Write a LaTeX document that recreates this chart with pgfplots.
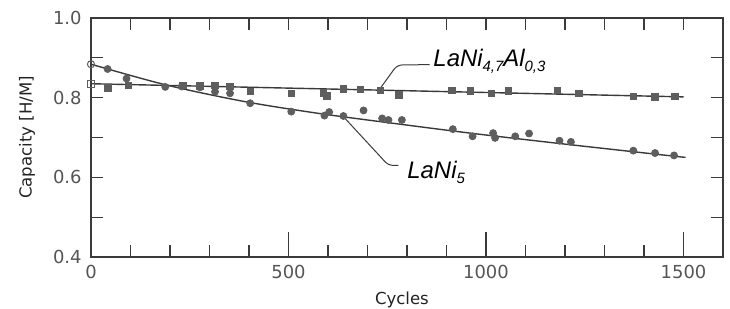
\documentclass[border=0pt]{standalone}
\usepackage{fontspec}
\setmainfont{DejaVu Sans}
\newfontfamily\annfont{Liberation Sans}
\usepackage{pgfplots}
\pgfplotsset{compat=1.18}
\definecolor{axgray}{HTML}{3A3A3A}
\definecolor{mkgray}{HTML}{5E5E5E}
\definecolor{tickgray}{HTML}{555555}
\definecolor{labgray}{HTML}{222222}
\newcommand{\sub}[1]{\raisebox{-2.5bp}{\fontsize{7.5}{7.5}\selectfont #1}}

\pgfplotstableread{
c v
42 0.872
90 0.848
188 0.827
230 0.828
276 0.826
314 0.815
352 0.811
403 0.786
507 0.765
591 0.755
603 0.764
639 0.754
690 0.768
737 0.748
753 0.744
787 0.744
916 0.721
966 0.703
1018 0.711
1023 0.699
1074 0.703
1109 0.710
1186 0.692
1215 0.689
1373 0.667
1428 0.661
1476 0.655
}\lanifive

\pgfplotstableread{
c v
43 0.825
94 0.831
233 0.831
276 0.830
314 0.831
352 0.829
403 0.815
508 0.810
589 0.812
597 0.804
639 0.822
682 0.821
732 0.818
779 0.807
914 0.819
960 0.817
1014 0.810
1056 0.817
1180 0.819
1235 0.810
1373 0.803
1428 0.802
1478 0.803
}\lanial

\begin{document}
\begin{tikzpicture}
\path (0,0) rectangle (365bp,154.5bp);
\begin{axis}[at={(45.5bp,26bp)}, anchor=south west,
  scale only axis, width=316bp, height=119.5bp,
  xmin=0, xmax=1600, ymin=0.4, ymax=1.0, clip=false,
  axis line style={line width=0.9bp, color=axgray},
  xtick={0,100,...,1500}, xticklabels={0,,,,,500,,,,,1000,,,,,1500},
  ytick={0.4,0.5,0.6,0.7,0.8,0.9,1.0}, yticklabels={0.4,,0.6,,0.8,,1.0},
  tick pos=both, xticklabel pos=left, yticklabel pos=left,
  tick align=inside, major tick length=6bp,
  extra x ticks={500,1000,1500}, extra x tick labels={},
  extra x tick style={tick pos=left, major tick length=12.5bp},
  every tick/.style={line width=0.65bp, color=axgray},
  tick label style={font=\fontsize{9}{9}\selectfont, text=tickgray},
  xticklabel style={anchor=north, inner sep=0pt, yshift=-4bp},
  yticklabel style={anchor=east, inner sep=0pt, xshift=-4.5bp},
  xlabel={Cycles}, ylabel={Capacity [H/M]},
  label style={font=\fontsize{8.3}{8.5}\selectfont, text=labgray},
  xlabel style={at={(axis description cs:0.492,-0.2)}, anchor=base, inner sep=0pt},
  ylabel style={at={(axis description cs:-0.101,0.5)}, anchor=center, inner sep=0pt}]
% fitted lines
\addplot[axgray, line width=0.7bp] coordinates {(0,0.835) (1500,0.802)};
\addplot[axgray, line width=0.7bp, smooth] coordinates {
  (0,0.884) (190,0.832) (390,0.790) (580,0.760) (770,0.735) (960,0.711) (1150,0.689) (1330,0.669) (1505,0.650)};
% data points
\addplot[only marks, mark=*, mark size=1.75bp, mkgray, mark options={fill=mkgray}] table[x=c,y=v] {\lanifive};
\addplot[only marks, mark=square*, mark size=1.6bp, mkgray, mark options={fill=mkgray}] table[x=c,y=v] {\lanial};
\addplot[only marks, mark=o, mark size=1.8bp, mkgray, mark options={fill=white, line width=0.5bp}] coordinates {(0,0.884)};
\addplot[only marks, mark=square, mark size=1.65bp, mkgray, mark options={fill=white, line width=0.5bp}] coordinates {(0,0.835)};
% leader lines
\addplot[axgray, line width=0.5bp, rounded corners=2.5bp] coordinates {(732,0.823) (775,0.882) (857,0.883)};
\addplot[axgray, line width=0.5bp, rounded corners=2bp] coordinates {(643,0.748) (753,0.630) (778,0.630)};
% labels
\node[anchor=base west, inner sep=0pt, font=\annfont\itshape\fontsize{12}{13}\selectfont, text=black]
  at (axis cs:866,0.877) {LaNi\sub{4,7}Al\sub{0,3}};
\node[anchor=base west, inner sep=0pt, font=\annfont\itshape\fontsize{12}{13}\selectfont, text=black]
  at (axis cs:800,0.598) {LaNi\sub{5}};
\end{axis}
\end{tikzpicture}
\end{document}
